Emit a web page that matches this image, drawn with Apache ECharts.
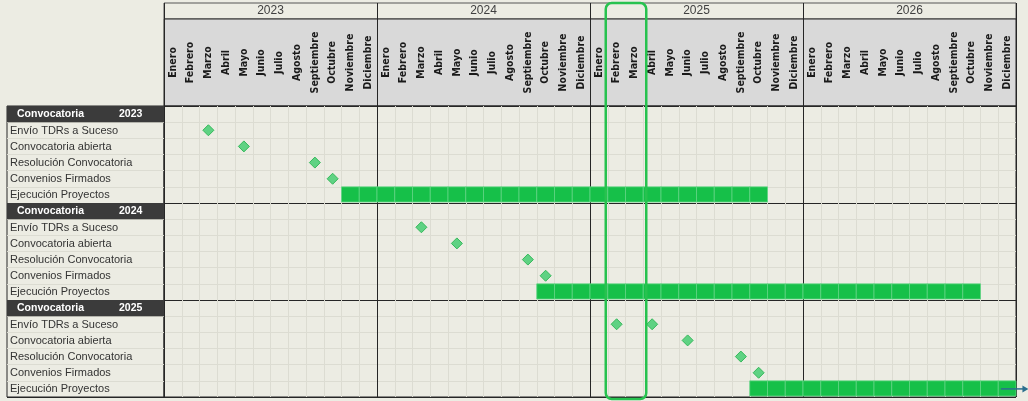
<!DOCTYPE html>
<html>
<head>
<meta charset="utf-8">
<script src="https://cdn.jsdelivr.net/npm/echarts@6/dist/echarts.min.js"></script>
<style>
  html, body { margin: 0; padding: 0; background: #ecece3; }
  #chart { width: 1028px; height: 401px; }
</style>
</head>
<body>
<div id="chart"></div>
<script>
// ---- data ----
const years = ['2023', '2024', '2025', '2026']
const monthNames = ['Enero', 'Febrero', 'Marzo', 'Abril', 'Mayo', 'Junio', 'Julio',
  'Agosto', 'Septiembre', 'Octubre', 'Noviembre', 'Diciembre']
const convocatorias = ['2023', '2024', '2025']
const tasks = ['Envío TDRs a Suceso', 'Convocatoria abierta', 'Resolución Convocatoria',
  'Convenios Firmados', 'Ejecución Proyectos']

// month index counted from Enero 2023 = 0, one entry per convocatoria
const envioTDRs = [[2], [14], [25, 27]]
const convocatoriaAbierta = [4, 16, 29]
const resolucion = [8, 20, 32]
const conveniosFirmados = [9, 21, 33]
const ejecucionInicio = [10, 21, 33]
const ejecucionFin = [33, 45, 47] // last month included
const highlightMonths = [25, 27] // Febrero-Marzo 2025 (end exclusive)
const arrowSpan = [47.15, 48.7] // continues past the chart on the last row

// ---- layout ----
const TOP = 3
const LEFT = 164
const PLOT_W = 852
const YEAR_H = 16
const HEAD_H = 87
const BODY_TOP = 106
const BODY_H = 291
const LABEL_LEFT = 7

const lightLine = '#dcdcd2'
const darkLine = '#262626'
const narrow = '"Liberation Sans Narrow", "Arial Narrow", "DejaVu Sans Condensed", sans-serif'
const sans = '"Liberation Sans", Arial, sans-serif'

const monthLabels = []
years.forEach(() => monthNames.forEach(m => monthLabels.push(m)))

const ROWS_PER = tasks.length + 1
const ROW_COUNT = convocatorias.length * ROWS_PER

// rows of the label column
const labelRows = []
convocatorias.forEach((c, g) => {
  labelRows.push({ row: g * ROWS_PER, header: true, year: c })
  tasks.forEach((t, k) => labelRows.push({ row: g * ROWS_PER + 1 + k, text: t }))
})

// milestones (diamonds)
const milestones = []
const milestoneLists = [envioTDRs, convocatoriaAbierta.map(v => [v]),
  resolucion.map(v => [v]), conveniosFirmados.map(v => [v])]
milestoneLists.forEach((list, k) => {
  list.forEach((months, g) => {
    months.forEach(m => milestones.push([m + 0.5, g * ROWS_PER + 1 + k + 0.5]))
  })
})

const bars = convocatorias.map((c, g) => [ejecucionInicio[g], ejecucionFin[g], g * ROWS_PER + 5])

function hiddenValueAxis (gridIndex, max) {
  return { gridIndex, type: 'value', min: 0, max, show: false }
}
function linesAxis (gridIndex, max, interval, color, extra) {
  return Object.assign({
    gridIndex, type: 'value', min: 0, max, interval,
    axisLine: { show: false }, axisTick: { show: false }, axisLabel: { show: false },
    splitLine: { show: true, lineStyle: { color, width: 1 } }
  }, extra || {})
}

const option = {
  backgroundColor: '#ecece3',
  animation: false,
  grid: [
    { left: LEFT, top: TOP, width: PLOT_W, height: YEAR_H, show: true, borderColor: '#555', borderWidth: 1 },
    { left: LEFT, top: TOP + YEAR_H, width: PLOT_W, height: HEAD_H, show: true,
      backgroundColor: '#d9d9d9', borderColor: darkLine, borderWidth: 1 },
    { left: LEFT, top: BODY_TOP, width: PLOT_W, height: BODY_H, show: true, borderColor: darkLine, borderWidth: 1 },
    { left: LABEL_LEFT, top: BODY_TOP, width: LEFT - LABEL_LEFT, height: BODY_H, show: true,
      borderColor: darkLine, borderWidth: 1 }
  ],
  xAxis: [
    {
      gridIndex: 0, type: 'category', data: years, position: 'top',
      axisLine: { show: false }, axisTick: { show: false },
      axisLabel: { inside: true, margin: 8, verticalAlign: 'middle', color: '#404040', fontSize: 12, fontFamily: sans },
      splitLine: { show: true, lineStyle: { color: darkLine } }
    },
    {
      gridIndex: 1, type: 'category', data: monthLabels, position: 'top',
      axisLine: { show: false }, axisTick: { show: false },
      axisLabel: {
        inside: true, rotate: 90, interval: 0, margin: HEAD_H / 2,
        align: 'center', verticalAlign: 'middle',
        color: '#1a1a1a', fontWeight: 'bold', fontSize: 10.5, fontFamily: narrow
      },
      splitLine: { show: false }
    },
    linesAxis(1, 48, 12, darkLine, { position: 'bottom' }),
    linesAxis(2, 48, 1, lightLine, { position: 'top' }),
    linesAxis(2, 48, 12, darkLine, { position: 'bottom' }),
    hiddenValueAxis(3, 1)
  ],
  yAxis: [
    hiddenValueAxis(0, 1),
    hiddenValueAxis(1, 1),
    linesAxis(2, ROW_COUNT, 1, lightLine, { inverse: true, position: 'left' }),
    linesAxis(2, ROW_COUNT, 6, darkLine, { inverse: true, position: 'right' }),
    linesAxis(3, ROW_COUNT, 1, lightLine, { inverse: true, position: 'left' }),
    linesAxis(3, ROW_COUNT, 6, darkLine, { inverse: true, position: 'right' })
  ],
  series: [
    {
      name: 'Ejecución',
      type: 'custom',
      xAxisIndex: 3, yAxisIndex: 2,
      data: bars,
      z: 3,
      renderItem (params, api) {
        const s = api.value(0), e = api.value(1), row = api.value(2)
        const children = []
        for (let m = s; m <= e; m++) {
          const p0 = api.coord([m, row])
          const p1 = api.coord([m + 1, row + 1])
          children.push({
            type: 'rect',
            shape: { x: p0[0], y: p0[1], width: p1[0] - p0[0], height: p1[1] - p0[1] - 1 },
            style: { fill: '#16c049', stroke: '#5fd483', lineWidth: 0.8 }
          })
        }
        return { type: 'group', children }
      }
    },
    {
      name: 'Hitos',
      type: 'scatter',
      xAxisIndex: 3, yAxisIndex: 2,
      data: milestones,
      symbol: 'diamond',
      symbolSize: 11,
      z: 4,
      itemStyle: { color: '#5fd283', borderColor: '#36b95b', borderWidth: 1, opacity: 1 }
    },
    {
      name: 'Continúa',
      type: 'custom',
      xAxisIndex: 3, yAxisIndex: 2,
      data: [[arrowSpan[0], arrowSpan[1], ROW_COUNT - 0.5]],
      clip: false,
      z: 5,
      renderItem (params, api) {
        const a = api.coord([api.value(0), api.value(2)])
        const b = api.coord([api.value(1), api.value(2)])
        return {
          type: 'group',
          children: [
            { type: 'line', shape: { x1: a[0], y1: a[1], x2: b[0] - 5, y2: b[1] },
              style: { stroke: '#2b6e8e', lineWidth: 1.5 } },
            { type: 'polygon', shape: { points: [[b[0] - 6, b[1] - 3.5], [b[0], b[1]], [b[0] - 6, b[1] + 3.5]] },
              style: { fill: '#2b6e8e' } }
          ]
        }
      }
    },
    {
      name: 'Foco',
      type: 'custom',
      xAxisIndex: 3, yAxisIndex: 2,
      data: [[highlightMonths[0], highlightMonths[1]]],
      clip: false,
      z: 10,
      renderItem (params, api) {
        const x0 = api.coord([api.value(0), 0])[0] - 2
        const x1 = api.coord([api.value(1), 0])[0] + 3
        const y1 = params.coordSys.y + params.coordSys.height + 2
        return {
          type: 'rect',
          shape: { x: x0, y: TOP, width: x1 - x0, height: y1 - TOP, r: 6 },
          style: { fill: 'none', stroke: '#27c24f', lineWidth: 2.5 }
        }
      }
    },
    {
      name: 'Etiquetas',
      type: 'custom',
      xAxisIndex: 5, yAxisIndex: 4,
      data: labelRows.map(r => [0, r.row]),
      z: 3,
      renderItem (params, api) {
        const r = labelRows[params.dataIndex]
        const p0 = api.coord([0, r.row])
        const p1 = api.coord([1, r.row + 1])
        const cy = (p0[1] + p1[1]) / 2
        if (r.header) {
          return {
            type: 'group',
            children: [
              { type: 'rect', shape: { x: p0[0], y: p0[1], width: p1[0] - p0[0], height: p1[1] - p0[1] },
                style: { fill: '#3b3b3b' } },
              { type: 'text', style: { text: 'Convocatoria', x: p0[0] + 10, y: cy + 0.5, verticalAlign: 'middle',
                fill: '#ffffff', font: 'bold 10.5px ' + sans } },
              { type: 'text', style: { text: r.year, x: p0[0] + 112, y: cy + 0.5, verticalAlign: 'middle',
                fill: '#ffffff', font: 'bold 10.5px ' + sans } }
            ]
          }
        }
        return {
          type: 'text',
          style: { text: r.text, x: p0[0] + 3, y: cy + 0.5, verticalAlign: 'middle', fill: '#333333', font: '11px ' + sans }
        }
      }
    }
  ]
}

const myChart = echarts.init(document.getElementById('chart'))
myChart.setOption(option)
</script>
</body>
</html>
